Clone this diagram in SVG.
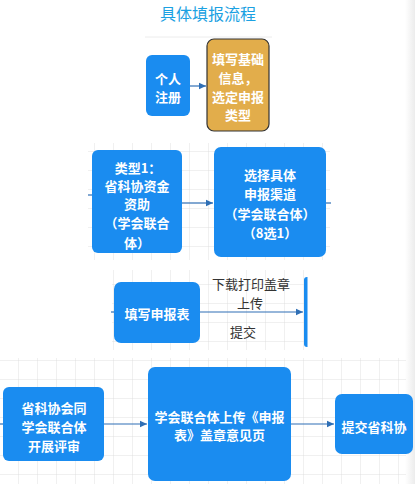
<svg xmlns="http://www.w3.org/2000/svg" width="415" height="484" viewBox="0 0 415 484">
  <defs>
    <pattern id="grid" width="19" height="19" patternUnits="userSpaceOnUse">
      <path d="M19 0 V19 M0 19 H19" fill="none" stroke="#d9d9d9" stroke-width="0.8"/>
    </pattern>
    <linearGradient id="edge" x1="0" y1="0" x2="1" y2="0">
      <stop offset="0" stop-color="#ffffff"/>
      <stop offset="1" stop-color="#ececec"/>
    </linearGradient>
    <marker id="arr" markerWidth="8" markerHeight="8" refX="7" refY="4" orient="auto" markerUnits="userSpaceOnUse">
      <path d="M0,0.8 L7,4 L0,7.2 Z" fill="#2f6fb5"/>
    </marker>
    <style>
      .blue { fill: #1a8cf0; }
      .gold { fill: #e2ad4b; stroke: #333333; stroke-width: 1.2; }
      .wt { fill: #ffffff; font-family: "Noto Sans CJK SC", "Noto Sans", sans-serif; font-size: 13px; font-weight: bold; text-anchor: middle; dominant-baseline: central; }
      .lbl { fill: #333333; font-family: "Noto Sans CJK SC", "Noto Sans", sans-serif; font-size: 13px; text-anchor: middle; dominant-baseline: central; }
      .ln { stroke: #2f6fb5; stroke-width: 1.2; fill: none; }
      .title { fill: #1ba1e2; font-family: "Noto Sans CJK SC", "Noto Sans", sans-serif; font-size: 16px; text-anchor: middle; dominant-baseline: central; }
    </style>
  </defs>

  <rect x="0" y="0" width="415" height="484" fill="#ffffff"/>
  <rect x="405" y="0" width="10" height="484" fill="url(#edge)"/>

  <!-- background grids -->
  <line x1="145" y1="37" x2="272" y2="37" stroke="#ececec" stroke-width="1"/>
  <rect x="88" y="143" width="242" height="117" fill="url(#grid)"/>
  <rect x="112" y="270" width="195" height="80" fill="url(#grid)"/>
  <rect x="0" y="358" width="406" height="126" fill="url(#grid)"/>

  <text class="title" x="208" y="13">具体填报流程</text>

  <g id="connectors">
    <line class="ln" x1="190" y1="86" x2="206" y2="86" marker-end="url(#arr)"/>
    <line class="ln" x1="88" y1="195" x2="92" y2="195"/>
    <line class="ln" x1="182" y1="203" x2="213" y2="203" marker-end="url(#arr)"/>
    <line class="ln" x1="326" y1="203" x2="331" y2="203"/>
    <line class="ln" x1="111" y1="312" x2="114" y2="312"/>
    <line class="ln" x1="200" y1="312" x2="303" y2="312" marker-end="url(#arr)"/>
    <text class="lbl" x="251" y="283">下载打印盖章</text>
    <text class="lbl" x="250" y="302">上传</text>
    <text class="lbl" x="243" y="331">提交</text>
    <line class="ln" x1="0" y1="424" x2="3" y2="424"/>
    <line class="ln" x1="104" y1="424" x2="147" y2="424" marker-end="url(#arr)"/>
    <line class="ln" x1="291" y1="424" x2="334" y2="424" marker-end="url(#arr)"/>
  </g>

  <g id="node-register">
    <rect class="blue" x="146" y="55" width="44" height="61" rx="6"/>
    <text class="wt" x="168" y="78">个人</text>
    <text class="wt" x="168" y="96">注册</text>
  </g>

  <g id="node-basic-info">
    <rect class="gold" x="207" y="39" width="62" height="92" rx="7"/>
    <text class="wt" x="238" y="58">填写基础</text>
    <text class="wt" x="238" y="77">信息，</text>
    <text class="wt" x="238" y="96">选定申报</text>
    <text class="wt" x="238" y="114">类型</text>
  </g>

  <g id="node-type1">
    <rect class="blue" x="92" y="150" width="90" height="103" rx="6"/>
    <text class="wt" x="138" y="167">类型1：</text>
    <text class="wt" x="137" y="185">省科协资金</text>
    <text class="wt" x="137" y="203">资助</text>
    <text class="wt" x="137" y="222">（学会联合</text>
    <text class="wt" x="137" y="242">体）</text>
  </g>

  <g id="node-channel">
    <rect class="blue" x="214" y="147" width="112" height="110" rx="7"/>
    <text class="wt" x="270" y="174">选择具体</text>
    <text class="wt" x="270" y="193">申报渠道</text>
    <text class="wt" x="270" y="213">（学会联合体）</text>
    <text class="wt" x="270" y="232">（8选1）</text>
  </g>

  <g id="node-fill-form">
    <rect class="blue" x="114" y="282" width="86" height="61" rx="7"/>
    <text class="wt" x="157" y="313">填写申报表</text>
  </g>

  <g id="node-partial">
    <path class="blue" d="M307.5,277 H307 A3,3 0 0 0 304,280 V344 A3,3 0 0 0 307,347 H307.5 Z"/>
  </g>

  <g id="node-review">
    <rect class="blue" x="3" y="387" width="101" height="74" rx="6"/>
    <text class="wt" x="54" y="407">省科协会同</text>
    <text class="wt" x="54" y="426">学会联合体</text>
    <text class="wt" x="54" y="445">开展评审</text>
  </g>

  <g id="node-upload">
    <rect class="blue" x="148" y="367" width="143" height="114" rx="7"/>
    <text class="wt" x="219.5" y="416">学会联合体上传《申报</text>
    <text class="wt" x="219.5" y="434">表》盖章意见页</text>
  </g>

  <g id="node-submit">
    <rect class="blue" x="335" y="394" width="78" height="60" rx="7"/>
    <text class="wt" x="374" y="426">提交省科协</text>
  </g>
</svg>
